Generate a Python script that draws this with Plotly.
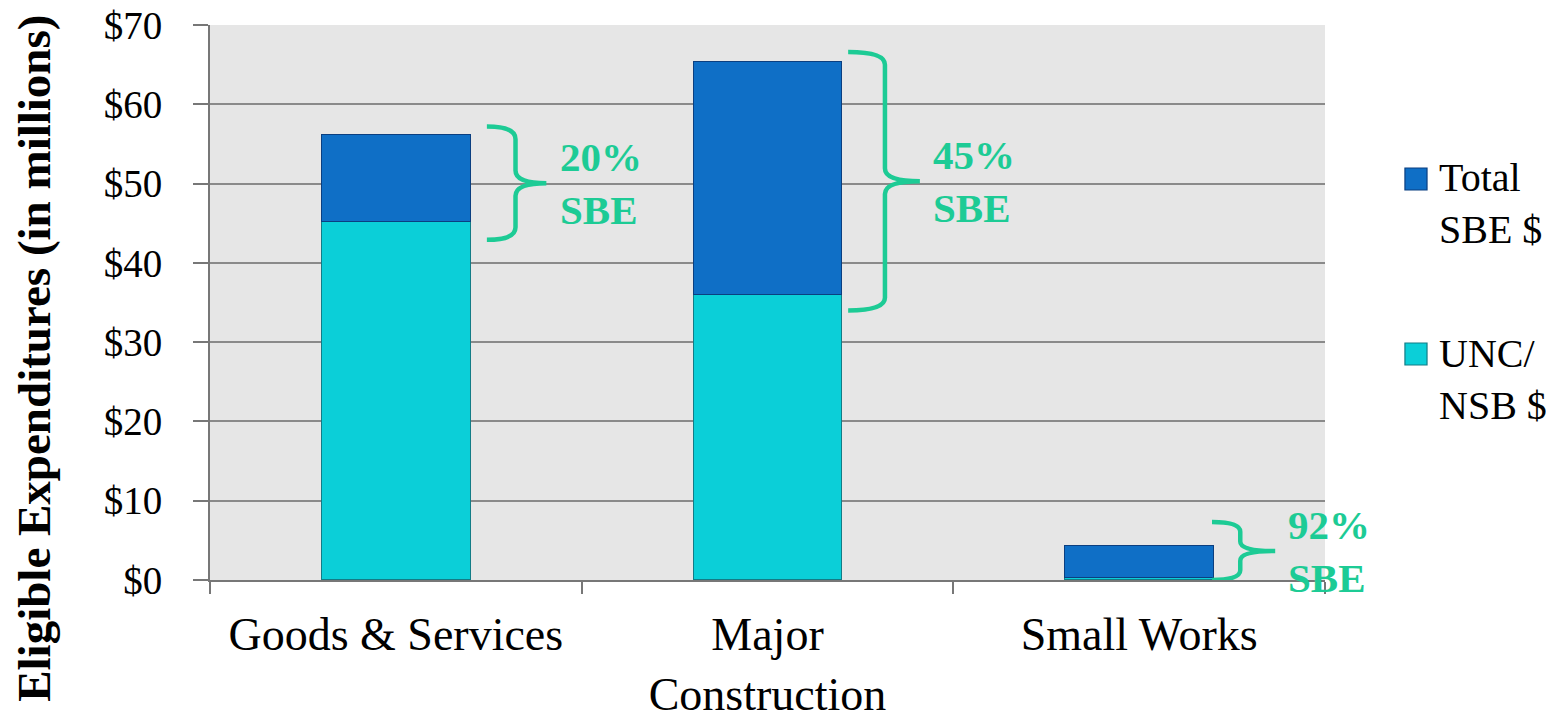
import plotly.graph_objects as go

categories = ["Goods & Services", "Major<br>Construction", "Small Works"]
unc_nsb = [45.2, 36.0, 0.35]
total_sbe = [11.0, 29.4, 4.05]
sbe_pct = ["20%", "45%", "92%"]
y_ticks = [0, 10, 20, 30, 40, 50, 60, 70]
y_tick_labels = ["$0", "$10", "$20", "$30", "$40", "$50", "$60", "$70"]
series_names = ["Total<br>SBE $", "UNC/<br>NSB $"]

# brace extents (annotation styling)
brace_lo = [42.9, 34.0, 0.0]
brace_hi = [57.2, 66.6, 7.3]
brace_x0 = [0.245, 0.217, 0.196]
brace_xs = [0.322, 0.316, 0.272]
brace_xt = [0.405, 0.41, 0.366]

GREEN = "#1DCB95"
SERIF = "Liberation Serif"
DARK = "#0F6FC6"
CYAN = "#0BCFD8"
DARK_EDGE = "#0B3F80"
CYAN_EDGE = "#137C86"

fig = go.Figure()
fig.add_trace(go.Bar(
    x=categories, y=unc_nsb, name=series_names[1], showlegend=False,
    marker=dict(color=CYAN, line=dict(color=CYAN_EDGE, width=1.2)),
))
fig.add_trace(go.Bar(
    x=categories, y=total_sbe, name=series_names[0], showlegend=False,
    marker=dict(color=DARK, line=dict(color=DARK_EDGE, width=1.2)),
))

shapes = []
annotations = []
for i in range(len(categories)):
    lo, hi = brace_lo[i], brace_hi[i]
    mid = (lo + hi) / 2
    x0, xs, xt = i + brace_x0[i], i + brace_xs[i], i + brace_xt[i]
    ry = min(1.6, (hi - lo) / 6)
    path = (f"M {x0},{hi} Q {xs},{hi} {xs},{hi-ry} L {xs},{mid+ry} "
            f"Q {xs},{mid} {xt},{mid} Q {xs},{mid} {xs},{mid-ry} "
            f"L {xs},{lo+ry} Q {xs},{lo} {x0},{lo}")
    shapes.append(dict(type="path", path=path, xref="x", yref="y",
                       line=dict(color=GREEN, width=4.5)))
    annotations.append(dict(
        x=xt + 0.03, y=mid, xref="x", yref="y", xanchor="left", yanchor="middle",
        text=f"<b>{sbe_pct[i]}<br>SBE</b>", showarrow=False, align="left",
        font=dict(family=SERIF, size=41, color=GREEN),
    ))

# manual legend (paper coordinates)
leg_sq_y = [(0.7027, 0.7423), (0.3874, 0.4270)]
leg_txt_y = [0.678, 0.362]
leg_colors = [(DARK, DARK_EDGE), (CYAN, CYAN_EDGE)]
for k in range(2):
    shapes.append(dict(type="rect", xref="paper", yref="paper",
                       x0=1.0717, x1=1.0915, y0=leg_sq_y[k][0], y1=leg_sq_y[k][1],
                       fillcolor=leg_colors[k][0], line=dict(color=leg_colors[k][1], width=1.2)))
    annotations.append(dict(x=1.1005, y=leg_txt_y[k], xref="paper", yref="paper",
                            xanchor="left", yanchor="middle", align="left", showarrow=False,
                            text=series_names[k],
                            font=dict(family=SERIF, size=40, color="black")))

annotations.append(dict(
    x=-0.158, y=0.40, xref="paper", yref="paper", textangle=-90,
    xanchor="center", yanchor="middle", showarrow=False,
    text="<b>Eligible Expenditures (in millions)</b>",
    font=dict(family=SERIF, size=47, color="black"),
))

fig.update_layout(
    barmode="stack",
    bargap=0.6,
    width=1546, height=713,
    margin=dict(l=202, r=229, t=17, b=141),
    paper_bgcolor="white",
    plot_bgcolor="#E6E6E6",
    shapes=shapes,
    annotations=annotations,
    showlegend=False,
    font=dict(family=SERIF, color="black"),
)
fig.update_xaxes(
    type="category", range=[-0.5, len(categories) - 0.5],
    tickson="boundaries", ticks="outside", ticklen=12,
    tickcolor="#777", tickwidth=1.5, showline=True, linecolor="#777", linewidth=2,
    tickfont=dict(family=SERIF, size=46, color="black"), showgrid=False,
    tickangle=0, automargin=False, ticklabelstandoff=13,
)
fig.update_yaxes(
    range=[0, 70], tickvals=y_ticks, ticktext=y_tick_labels,
    ticks="outside", ticklen=15, tickcolor="#777", tickwidth=1.5,
    showline=True, linecolor="#777", linewidth=2,
    gridcolor="#8A8A8A", gridwidth=1.5, zeroline=False,
    tickfont=dict(family=SERIF, size=39, color="black"),
    ticklabelstandoff=23, automargin=False, ticklabeloverflow="allow",
)

fig.write_html("out.html")
